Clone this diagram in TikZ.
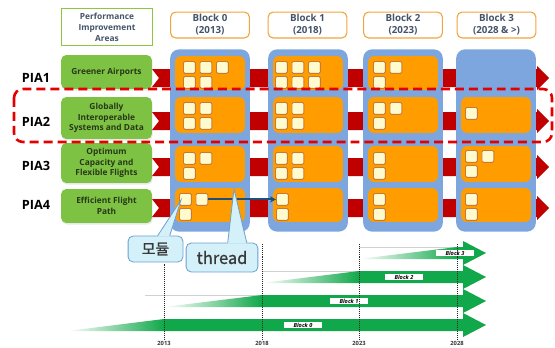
\documentclass[tikz,border=0pt]{standalone}
\usepackage{fontspec}
\setmainfont{Open Sans}
\newfontfamily\krfont[FakeBold=1.2]{Noto Sans CJK KR}
\usetikzlibrary{arrows.meta,calc,shadows}

\definecolor{colblue}{HTML}{7DA6DF}
\definecolor{cellorange}{HTML}{FF9D00}
\definecolor{sqfill}{HTML}{FFFBCF}
\definecolor{sqedge}{HTML}{C87A34}
\definecolor{bandred}{HTML}{C00000}
\definecolor{piagreen}{HTML}{7DC243}
\definecolor{piatext}{HTML}{283818}
\definecolor{hdrtext}{HTML}{44546A}
\definecolor{hdrgreen}{HTML}{8DC63F}
\definecolor{blkedge}{HTML}{F2A53C}
\definecolor{dashred}{HTML}{E50000}
\definecolor{callfill}{HTML}{D4F1FA}
\definecolor{calledge}{HTML}{6A9FCF}
\definecolor{arrowblue}{HTML}{1F4E79}
\definecolor{tlgreen}{HTML}{10A84A}

% squares of one cell: block, row, x0, y0, list of column/line offsets
\newcommand\sqset[5]{%
  \foreach \i/\j in {#5} {
    \node[sqcell] (q-#1-#2-\i-\j) at (#3+\i*16.5, #4+\j*15) {};
  }}

\begin{document}
\begin{tikzpicture}[x=1bp, y=-1bp,
  colbox/.style={fill=colblue, rounded corners=9pt, minimum width=80pt, minimum height=183pt, inner sep=0pt},
  cellbox/.style={fill=cellorange, rounded corners=6pt, minimum width=70pt, inner sep=0pt},
  sqcell/.style={draw=sqedge, fill=sqfill, line width=0.8pt, rounded corners=1.5pt,
    minimum size=12pt, inner sep=0pt, anchor=north west},
  piabox/.style={fill=piagreen, rounded corners=5pt, minimum width=91pt, inner sep=1pt,
    text=piatext, align=center, font=\bfseries\fontsize{8.4}{10.6}\selectfont,
    drop shadow={opacity=0.18, shadow xshift=0.8pt, shadow yshift=-1.6pt}},
  pialabel/.style={font=\bfseries\fontsize{12.8}{14}\selectfont, text=black},
  hdrbox/.style={draw=hdrgreen, line width=1.1pt, fill=white, minimum width=92pt, minimum height=38pt,
    align=center, text=hdrtext, font=\bfseries\fontsize{8.4}{11}\selectfont},
  blkbox/.style={draw=blkedge, line width=1.1pt, fill=white, rounded corners=5pt,
    minimum width=79pt, minimum height=26pt, inner sep=0pt, align=center, text=hdrtext,
    font=\bfseries\fontsize{9.8}{12}\selectfont},
  callbox/.style={draw=calledge, fill=callfill, line width=0.8pt, rounded corners=5pt, inner sep=0pt,
    text=black!78, font=\krfont},
  yearlabel/.style={font=\bfseries\fontsize{5.8}{6}\selectfont, text=black!80, inner sep=0.5pt},
  yearline/.style={black!85, line width=0.9pt, dash pattern=on 1pt off 1pt},
  bandlabel/.style={fill=white, inner sep=0.6pt, minimum width=38pt, minimum height=7pt,
    font=\bfseries\itshape\fontsize{5.6}{6}\selectfont, text=black}]
\useasboundingbox (0,0) rectangle (555,347);
\fill[white] (0,0) rectangle (555,347);

% red chevron bands behind the blocks
\foreach \cy in {78,121,167,208} {
  \fill[bandred] (152,\cy-9) -- (159,\cy) -- (152,\cy+9) -- (537,\cy+9) -- (537,\cy+12)
    -- (549,\cy) -- (537,\cy-12) -- (537,\cy-9) -- cycle;
}

% block columns
\foreach \x/\n in {170/0,268/1,363/2,456/3} {
  \node[colbox] (col\n) at (\x+40,140.5) {};
}

% orange cells
\foreach \x/\n in {170/0,268/1,363/2,456/3} {
  \ifnum\n<3 \node[cellbox, minimum height=34pt] (c\n-1) at (\x+40,73) {};\fi
  \node[cellbox, minimum height=36pt] (c\n-2) at (\x+40,115) {};
  \node[cellbox, minimum height=36pt] (c\n-3) at (\x+40,164) {};
  \node[cellbox, minimum height=34pt] (c\n-4) at (\x+40,205) {};
}

% modules in each cell
\sqset{0}{1}{183}{61}{0/0,1/0,2/0,0/1,1/1}
\sqset{0}{2}{183}{102}{0/0,1/0,0/1,1/1}
\sqset{0}{3}{183}{152}{0/0,1/0,0/1}
\sqset{0}{4}{179}{193}{0/0,1/0,0/1}
\sqset{1}{1}{275}{61}{0/0,1/0,2/0,0/1,1/1,2/1}
\sqset{1}{2}{275}{102}{0/0,1/0,0/1,1/1}
\sqset{1}{3}{275}{152}{0/0,1/0,0/1,1/1}
\sqset{1}{4}{276}{193}{0/0,0/1}
\sqset{2}{1}{373}{61}{0/0,1/0,0/1}
\sqset{2}{2}{373}{102}{0/0,1/0,0/1}
\sqset{2}{3}{373}{152}{0/0,0/1}
\sqset{2}{4}{373}{193}{0/0,0/1}
\sqset{3}{2}{465}{107}{0/0}
\sqset{3}{3}{465}{150}{0/0,1/0,0/1}
\sqset{3}{4}{465}{193}{0/0,0/1}

% performance improvement areas
\node[piabox, minimum height=34pt] (p1) at (106.5,72) {Greener Airports};
\node[piabox, minimum height=42pt] (p2) at (106.5,118) {Globally\\Interoperable\\Systems and Data};
\node[piabox, minimum height=40pt] (p3) at (106.5,163) {Optimum\\Capacity and\\Flexible Flights};
\node[piabox, minimum height=34pt] (p4) at (106.5,206) {Efficient Flight\\Path};

\node[pialabel] (l1) at (36,78) {PIA1};
\node[pialabel] (l2) at (36,122) {PIA2};
\node[pialabel] (l3) at (36,166) {PIA3};
\node[pialabel] (l4) at (36,205) {PIA4};

% column headers
\node[hdrbox] (hdr) at (107,27) {Performance\\Improvement\\Areas};
\node[blkbox] (b0) at (210,25) {Block 0\\(2013)};
\node[blkbox] (b1) at (307.5,25) {Block 1\\(2018)};
\node[blkbox] (b2) at (403,25) {Block 2\\(2023)};
\node[blkbox] (b3) at (496.5,25) {Block 3\\(2028 \& >)};

% thread between modules
\draw[arrowblue, line width=2.2pt, -{Stealth[length=6pt,width=6pt]}]
  (q-0-4-1-0.east) -- (q-1-4-0-0.west);

% highlighted PIA2
\draw[dashred, line width=2.6pt, dash pattern=on 9pt off 5pt, rounded corners=9pt]
  (14,89) rectangle (552,142);

% callouts
\node[callbox, minimum width=55pt, minimum height=26pt, font=\krfont\fontsize{15}{16}\selectfont]
  (cm) at (155.5,249) {모듈};
\coordinate (cmtip) at (181,200);
\fill[callfill] ($(cm.north west)+(30,1)$) -- (cmtip) -- ($(cm.north west)+(42,1)$) -- cycle;
\draw[calledge, line width=0.8pt] ($(cm.north west)+(30,0)$) -- (cmtip) -- ($(cm.north west)+(42,0)$);

\node[callbox, minimum width=72pt, minimum height=29pt, font=\krfont\fontsize{16.5}{18}\selectfont]
  (ct) at (222,257.5) {thread};
\coordinate (cttip) at (234,189);
\fill[callfill] ($(ct.north west)+(42,1)$) -- (cttip) -- ($(ct.north west)+(61,1)$) -- cycle;
\draw[calledge, line width=0.8pt] ($(ct.north west)+(42,0)$) -- (cttip) -- ($(ct.north west)+(61,0)$);

% timeline
\draw[black!18, line width=0.5pt] (145,295) -- (262,295) (262,271) -- (359,271) (359,247) -- (457,247);

\shade[left color=white, right color=tlgreen] (67,331) -- (164,319) -- (164,331) -- cycle;
\fill[tlgreen] (164,319) -- (463,319) -- (463,313) -- (486,325) -- (463,337) -- (463,331) -- (164,331) -- cycle;
\shade[left color=white, right color=tlgreen] (164,307) -- (262,295) -- (262,307) -- cycle;
\fill[tlgreen] (262,295) -- (463,295) -- (463,289) -- (486,301) -- (463,313) -- (463,307) -- (262,307) -- cycle;
\shade[left color=white, right color=tlgreen] (262,283) -- (359,271) -- (359,283) -- cycle;
\fill[tlgreen] (359,271) -- (463,271) -- (463,265) -- (486,277) -- (463,289) -- (463,283) -- (359,283) -- cycle;
\shade[left color=white, right color=tlgreen] (359,259) -- (457,247) -- (457,259) -- cycle;
\fill[tlgreen] (457,247) -- (463,247) -- (463,241) -- (486,253) -- (463,265) -- (463,259) -- (457,259) -- cycle;

\node[bandlabel] (t0) at (303,325) {Block 0};
\node[bandlabel] (t1) at (349,301) {Block 1};
\node[bandlabel] (t2) at (404,277) {Block 2};
\node[bandlabel] (t3) at (455,253) {Block 3};

\node[yearlabel] (y13) at (164,343) {2013};
\node[yearlabel] (y18) at (262,343) {2018};
\node[yearlabel] (y23) at (359,343) {2023};
\node[yearlabel] (y28) at (457,343) {2028};
\draw[yearline] (y13.north) -- ++(0,-76);
\draw[yearline] (y18.north) -- ++(0,-96);
\draw[yearline] (y23.north) -- ++(0,-96);
\draw[yearline] (y28.north) -- ++(0,-96);
\end{tikzpicture}
\end{document}
